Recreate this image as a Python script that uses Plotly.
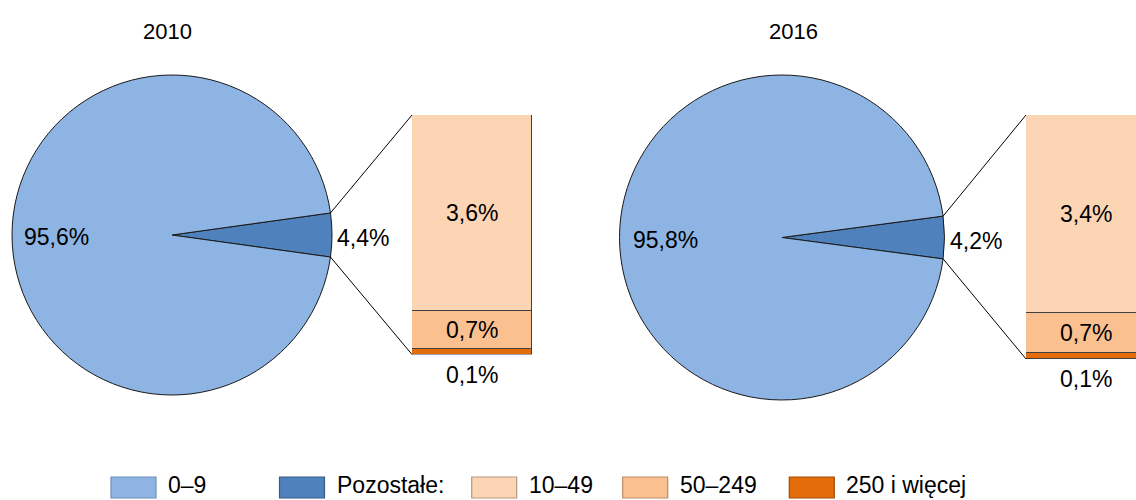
import math
import plotly.graph_objects as go

# ---------------- data ----------------
years = ["2010", "2016"]
pie_labels = ["Pozostałe:", "0–9"]
pie_2010 = [4.4, 95.6]
pie_2016 = [4.2, 95.8]
bar_labels = ["250 i więcej", "50–249", "10–49"]  # bottom -> top
bar_2010 = [0.1, 0.7, 3.6]
bar_2016 = [0.1, 0.7, 3.4]
legend_labels = ["0–9", "Pozostałe:", "10–49", "50–249", "250 i więcej"]

# ---------------- style ----------------
W, H = 1136, 500
FONT = "Liberation Sans, Arial, sans-serif"
FS = 23
fill = {"0–9": "#8DB4E2", "Pozostałe:": "#4F81BD", "10–49": "#FCD5B5",
        "50–249": "#FAC090", "250 i więcej": "#E46C0A"}
edge = {"0–9": "#6F8FB8", "Pozostałe:": "#385D8A", "10–49": "#B8987C",
        "50–249": "#B98D66", "250 i więcej": "#A04C06"}

pie_geo = [dict(cx=172, cy=235, r=160), dict(cx=782, cy=237.5, r=162.5)]
bar_geo = [dict(x0=412, x1=532, y0=115, y1=354.5), dict(x0=1026, x1=1146, y0=115, y1=359)]
title_pos = [(167.5, 31), (793, 31)]
legend_x = [111, 279.5, 471.7, 622.7, 789.3]
legend_y = (477, 498)
legend_text_y = 485


def px(x):
    return x / W


def py(y):
    return 1 - y / H


def fmt(v):
    return f"{v:.1f}".replace(".", ",") + "%"


fig = go.Figure()
shapes = []
annotations = []

pies = [pie_2010, pie_2016]
bars = [bar_2010, bar_2016]

for i, year in enumerate(years):
    pg = pie_geo[i]
    bg = bar_geo[i]
    vals = pies[i]
    small = vals[0]
    half_deg = small * 3.6 / 2

    fig.add_trace(go.Pie(
        labels=pie_labels, values=vals, sort=False, direction="clockwise",
        rotation=90 - half_deg,
        domain=dict(x=[px(pg["cx"] - pg["r"]), px(pg["cx"] + pg["r"])],
                    y=[py(pg["cy"] + pg["r"]), py(pg["cy"] - pg["r"])]),
        marker=dict(colors=[fill[l] for l in pie_labels],
                    line=dict(color="#1a1a1a", width=1)),
        textinfo="none", hoverinfo="label+percent", showlegend=False,
    ))

    # pie labels
    annotations.append(dict(
        x=px(pg["cx"] - 0.72 * pg["r"]), y=py(pg["cy"] + 2), xref="paper", yref="paper",
        text=fmt(vals[1]), showarrow=False, xanchor="center", yanchor="middle",
        font=dict(size=FS, color="black", family=FONT)))
    annotations.append(dict(
        x=px(pg["cx"] + pg["r"] + 3), y=py(pg["cy"] + 3), xref="paper", yref="paper",
        text=fmt(vals[0]), showarrow=False, xanchor="left", yanchor="middle",
        font=dict(size=FS, color="black", family=FONT)))

    # bar axis
    ax = "" if i == 0 else str(i + 1)
    xr = min(bg["x1"], W)
    frac = (xr - bg["x0"]) / (bg["x1"] - bg["x0"])
    fig.update_layout(**{
        f"xaxis{ax}": dict(domain=[px(bg["x0"]), px(xr)], range=[-0.5, -0.5 + frac],
                           visible=False, fixedrange=True, anchor=f"y{ax}"),
        f"yaxis{ax}": dict(domain=[py(bg["y1"]), py(bg["y0"])], range=[0, sum(bars[i])],
                           visible=False, fixedrange=True, anchor=f"x{ax}"),
    })

    cum = 0
    for lab, v in zip(bar_labels, bars[i]):
        fig.add_trace(go.Bar(
            x=[0], y=[v], width=1, xaxis=f"x{ax}", yaxis=f"y{ax}",
            marker=dict(color=fill[lab], line=dict(color="#404040", width=1.2)),
            showlegend=False, hoverinfo="y+name", name=lab,
        ))
        if v < 0.3:
            annotations.append(dict(
                x=0, y=0, xref=f"x{ax}", yref=f"y{ax}", text=fmt(v), showarrow=False,
                xanchor="center", yanchor="top", yshift=-5,
                font=dict(size=FS, color="black", family=FONT)))
        else:
            annotations.append(dict(
                x=0, y=cum + v / 2, xref=f"x{ax}", yref=f"y{ax}", text=fmt(v),
                showarrow=False, xanchor="center", yanchor="middle",
                font=dict(size=FS, color="black", family=FONT)))
        cum += v

    # connectors from the small slice to the bar
    th = math.radians(half_deg)
    ex = pg["cx"] + pg["r"] * math.cos(th)
    ey_top = pg["cy"] - pg["r"] * math.sin(th)
    ey_bot = pg["cy"] + pg["r"] * math.sin(th)
    for (ya, yb) in [(ey_top, bg["y0"]), (ey_bot, bg["y1"])]:
        shapes.append(dict(type="line", xref="paper", yref="paper",
                           x0=px(ex), y0=py(ya), x1=px(bg["x0"]), y1=py(yb),
                           line=dict(color="black", width=1)))

    # title
    annotations.append(dict(
        x=px(title_pos[i][0]), y=py(title_pos[i][1]), xref="paper", yref="paper",
        text=year, showarrow=False, xanchor="center", yanchor="middle",
        font=dict(size=22, color="black", family=FONT)))

# custom legend
for lab, lx in zip(legend_labels, legend_x):
    shapes.append(dict(type="rect", xref="paper", yref="paper",
                       x0=px(lx), x1=px(lx + 45), y0=py(legend_y[1]), y1=py(legend_y[0]),
                       fillcolor=fill[lab], line=dict(color=edge[lab], width=1.2)))
    annotations.append(dict(
        x=px(lx + 56), y=py(legend_text_y), xref="paper", yref="paper", text=lab,
        showarrow=False, xanchor="left", yanchor="middle", borderpad=0,
        font=dict(size=23, color="black", family=FONT)))

fig.update_layout(
    width=W, height=H, margin=dict(l=0, r=0, t=0, b=0),
    paper_bgcolor="white", plot_bgcolor="white",
    barmode="stack", bargap=0, showlegend=False,
    shapes=shapes, annotations=annotations,
    font=dict(family=FONT, size=FS, color="black"),
)

fig.write_html(
    "out.html",
    config={"displayModeBar": False},
    post_script="document.body.style.margin='0';document.body.style.overflow='hidden';",
)
